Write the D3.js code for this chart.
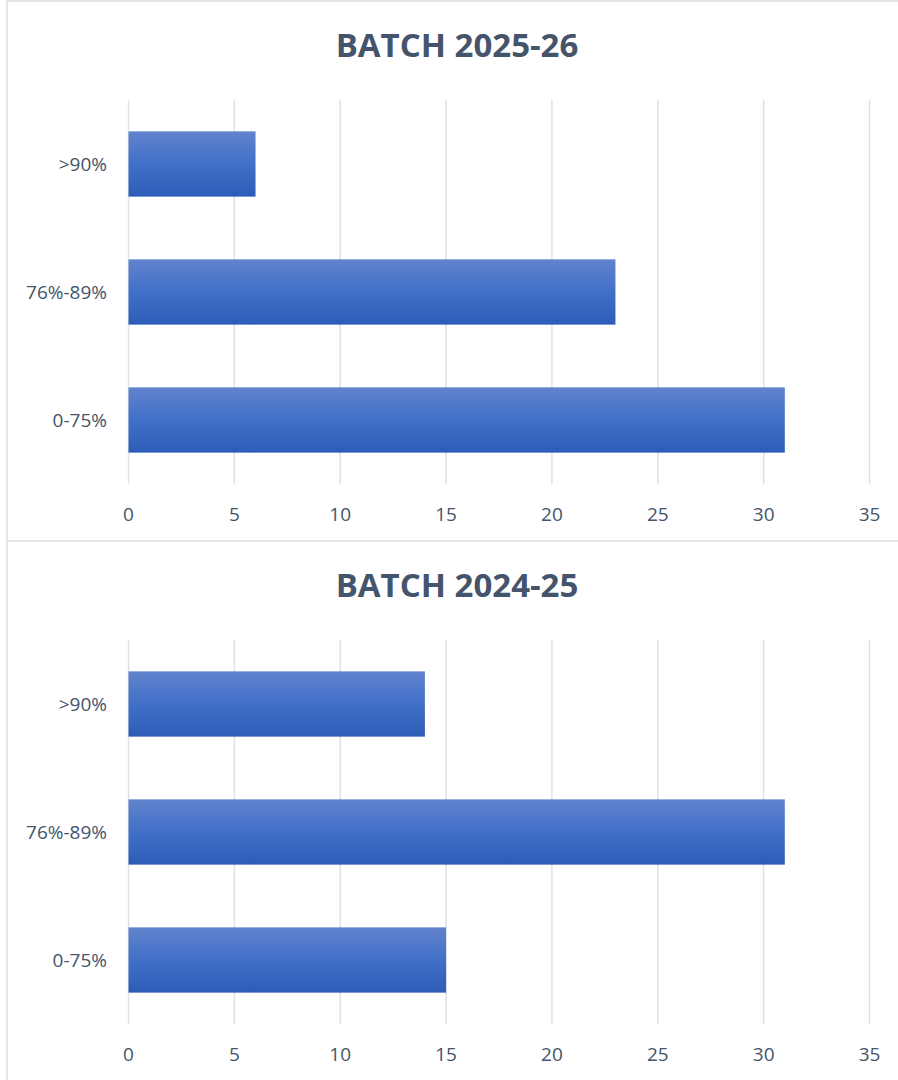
<!DOCTYPE html>
<html>
<head>
<meta charset="utf-8">
<script src="https://cdn.jsdelivr.net/npm/d3@7"></script>
<style>
  body { margin: 0; background: #fff; }
  text { font-family: "Open Sans", "Noto Sans", sans-serif; }
</style>
</head>
<body>
<div id="chart"></div>
<script>
// categories bottom-to-top as shown
const categories = [">90%", "76%-89%", "0-75%"];
const batch2526 = [6, 23, 31];
const batch2425 = [14, 31, 15];
const titles = ["BATCH 2025-26", "BATCH 2024-25"];
const xTicks = [0, 5, 10, 15, 20, 25, 30, 35];

const width = 898, height = 1080;
const margins = {top: 100, left: 128.5, right: 28.5, plot: 384};

const svg = d3.select('#chart')
    .append('svg')
    .attr('width', width)
    .attr('height', height);

// bar gradient
const grad = svg.append('defs').append('linearGradient')
    .attr('id', 'barGrad')
    .attr('x1', 0).attr('y1', 0).attr('x2', 0).attr('y2', 1);
grad.append('stop').attr('offset', '0%').attr('stop-color', '#6283cd');
grad.append('stop').attr('offset', '50%').attr('stop-color', '#4170c8');
grad.append('stop').attr('offset', '100%').attr('stop-color', '#2d5cb7');

const x_scale = d3.scaleLinear()
    .domain([0, 35])
    .range([margins.left, width - margins.right]);

const y_scale = d3.scaleBand()
    .domain(categories)
    .range([0, margins.plot])
    .paddingInner(0.49)
    .paddingOuter(0.245);

// panel borders
svg.append('line').attr('x1', 7).attr('x2', 7).attr('y1', 1).attr('y2', height)
    .attr('stroke', '#e3e5e8').attr('stroke-width', 2);
svg.append('line').attr('x1', 7).attr('x2', width).attr('y1', 1).attr('y2', 1)
    .attr('stroke', '#e3e5e8').attr('stroke-width', 2);
svg.append('line').attr('x1', 7).attr('x2', width).attr('y1', 541).attr('y2', 541)
    .attr('stroke', '#e3e5e8').attr('stroke-width', 2);

function drawPanel(offsetY, title, values) {
    const g = svg.append('g').attr('transform', 'translate(0,' + offsetY + ')');

    g.append('text')
        .attr('x', 457)
        .attr('y', 57)
        .attr('text-anchor', 'middle')
        .attr('font-size', '33px')
        .attr('font-weight', 'bold')
        .attr('fill', '#44546a')
        .text(title);

    const plot = g.append('g').attr('transform', 'translate(0,' + margins.top + ')');

    // gridlines
    plot.selectAll('.grid')
        .data(xTicks)
        .enter()
        .append('line')
        .attr('x1', d => x_scale(d))
        .attr('x2', d => x_scale(d))
        .attr('y1', 0)
        .attr('y2', margins.plot)
        .attr('stroke', '#dde1e7')
        .attr('stroke-width', 1.5);

    // x tick labels
    plot.selectAll('.tick')
        .data(xTicks)
        .enter()
        .append('text')
        .attr('x', d => x_scale(d))
        .attr('y', margins.plot + 37)
        .attr('text-anchor', 'middle')
        .attr('font-size', '19px')
        .attr('fill', '#44546a')
        .text(d => d);

    // category labels
    plot.selectAll('.cat')
        .data(categories)
        .enter()
        .append('text')
        .attr('x', 107)
        .attr('y', d => y_scale(d) + y_scale.bandwidth() / 2)
        .attr('dy', '0.35em')
        .attr('text-anchor', 'end')
        .attr('font-size', '19px')
        .attr('fill', '#44546a')
        .text(d => d);

    plot.selectAll('rect')
        .data(categories)
        .enter()
        .append('rect')
        .attr('x', x_scale(0))
        .attr('y', d => y_scale(d))
        .attr('width', (d, i) => x_scale(values[i]) - x_scale(0))
        .attr('height', y_scale.bandwidth())
        .attr('fill', 'url(#barGrad)');
}

drawPanel(0, titles[0], batch2526);
drawPanel(540, titles[1], batch2425);
</script>
</body>
</html>
